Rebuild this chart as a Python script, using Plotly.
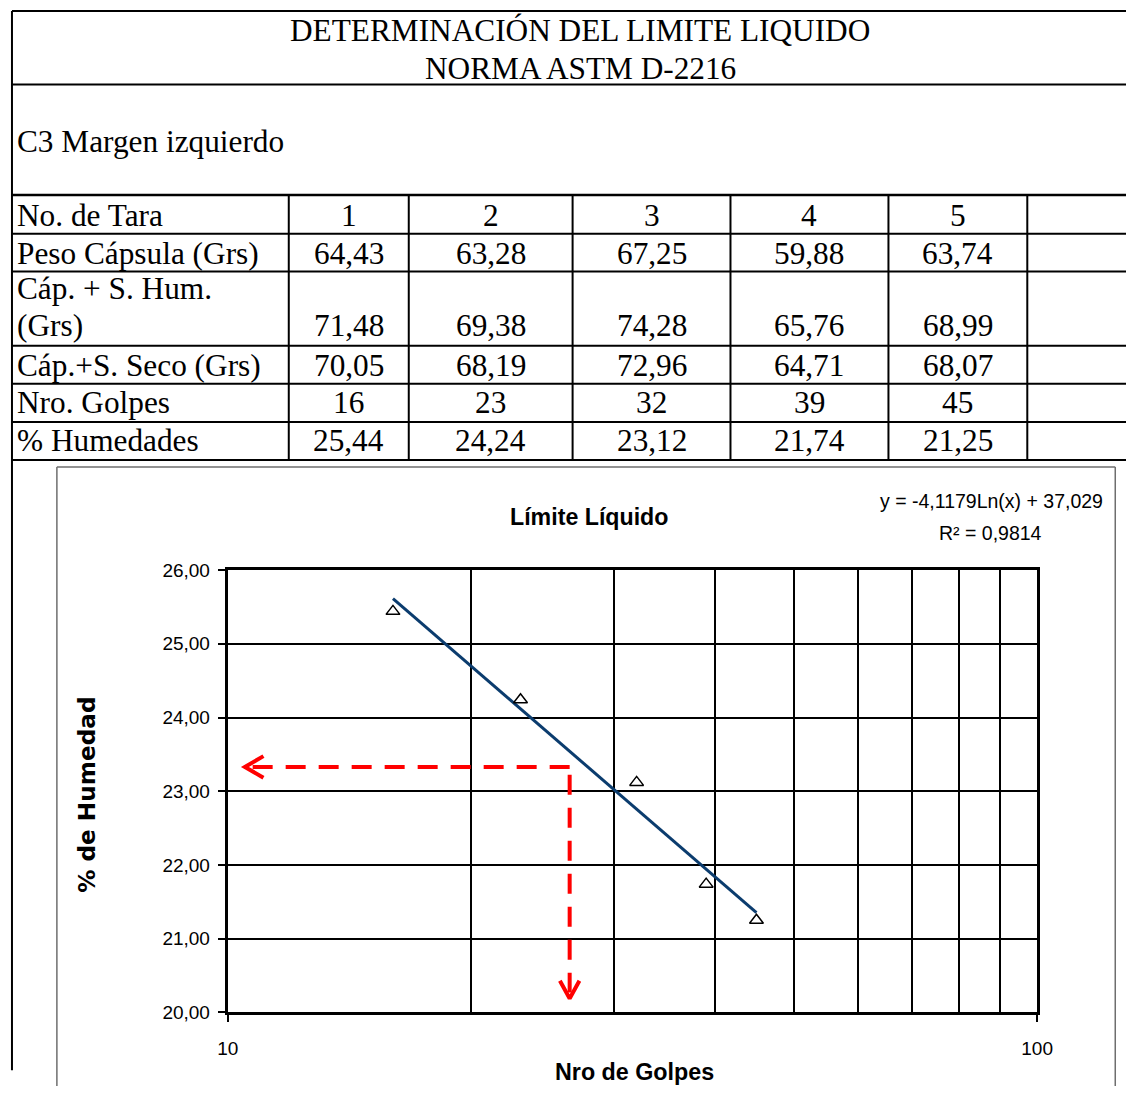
import numpy as np
import plotly.graph_objects as go

# ---------------- data ----------------
tara = ["1", "2", "3", "4", "5"]
peso_capsula = [64.43, 63.28, 67.25, 59.88, 63.74]
cap_suelo_humedo = [71.48, 69.38, 74.28, 65.76, 68.99]
cap_suelo_seco = [70.05, 68.19, 72.96, 64.71, 68.07]
golpes = [16, 23, 32, 39, 45]
humedad = [25.44, 24.24, 23.12, 21.74, 21.25]

# logarithmic trend line reported for the test
trend_slope = -4.1179
trend_intercept = 37.029
trend_r2 = 0.9814

# reading guide (dashed arrows) for the liquid limit
guide_golpes = 26.45
guide_humedad = 23.33
guide_x_end = 10.5
guide_y_end = 20.19

y_ticks = [20, 21, 22, 23, 24, 25, 26]
x_major = [10, 100]
x_minor = [20, 30, 40, 50, 60, 70, 80, 90]

# ---------------- page geometry (pixels) ----------------
W, H = 1142, 1097
PL, PR, PT, PB = 222, 1051, 571, 1022  # plot area


def px(x):
    return x / W


def py(y):
    return 1 - y / H


def coma(v, nd=2):
    return f"{v:.{nd}f}".replace(".", ",")


SERIF = "Liberation Serif, Times New Roman, serif"
SANS = "Liberation Sans, Arial, sans-serif"
WIDE = "DejaVu Sans, Verdana, sans-serif"

fig = go.Figure()

# trend line
xt = np.geomspace(min(golpes), max(golpes), 150)
yt = trend_slope * np.log(xt) + trend_intercept
fig.add_trace(go.Scatter(x=xt, y=yt, mode="lines",
                         line=dict(color="#0b3c6e", width=3),
                         hoverinfo="skip", showlegend=False))

# measured points
fig.add_trace(go.Scatter(x=golpes, y=humedad, mode="markers",
                         marker=dict(symbol="triangle-up-open", size=12,
                                     color="black", line=dict(width=1.5, color="black")),
                         showlegend=False))

# dashed reading guide with open arrowheads
lu = (np.log10(x_major[-1]) - np.log10(x_major[0])) / (PR - PL)  # log units per px
yu = (y_ticks[-1] - y_ticks[0]) / (PB - PT)                      # y units per px
red = "#ff0000"
dash_style = dict(color=red, width=4, dash="20px,13px")
fig.add_trace(go.Scatter(x=[guide_golpes, guide_x_end * 10 ** (6 * lu)],
                         y=[guide_humedad, guide_humedad], mode="lines",
                         line=dash_style, hoverinfo="skip", showlegend=False))
fig.add_trace(go.Scatter(x=[guide_golpes, guide_golpes],
                         y=[guide_humedad - 8 * yu, guide_y_end + 6 * yu], mode="lines",
                         line=dash_style, hoverinfo="skip", showlegend=False))
head = dict(color=red, width=4)
fig.add_trace(go.Scatter(
    x=[guide_x_end * 10 ** (19 * lu), guide_x_end, guide_x_end * 10 ** (19 * lu)],
    y=[guide_humedad + 11 * yu, guide_humedad, guide_humedad - 11 * yu],
    mode="lines", line=head, hoverinfo="skip", showlegend=False))
fig.add_trace(go.Scatter(
    x=[guide_golpes * 10 ** (-10 * lu), guide_golpes, guide_golpes * 10 ** (10 * lu)],
    y=[guide_y_end + 18 * yu, guide_y_end, guide_y_end + 18 * yu],
    mode="lines", line=head, hoverinfo="skip", showlegend=False))

# ---------------- table frame ----------------
shapes = []


def seg(x0, y0, x1, y1, w=2, color="black"):
    shapes.append(dict(type="line", xref="paper", yref="paper",
                       x0=px(x0), x1=px(x1), y0=py(y0), y1=py(y1),
                       line=dict(color=color, width=w)))


LEFT = 1
seg(LEFT, 1, W, 1)
seg(LEFT, 76, W, 76)
seg(LEFT, 188.5, W, 188.5, w=2.5)
row_lines = [228, 266.7, 342.3, 381, 420, 458.7]
for y in row_lines:
    seg(LEFT, y, W, y)
seg(LEFT, 1, LEFT, 1081)
col_lines = [284.5, 407.4, 575.2, 736.9, 898.7, 1040.9]
for x in col_lines:
    seg(x, 188.5, x, 458.7)

# chart frame (its lower edge runs past the page)
frame = "#6e6e6e"
seg(47, 466, 1131, 466, w=1.5, color=frame)
seg(47, 466, 47, H, w=1.5, color=frame)
seg(1131, 466, 1131, H, w=1.5, color=frame)

# ---------------- texts ----------------
ann = []


def text(x, y, s, font, size, anchor="center", color="black", weight="normal", angle=0):
    ann.append(dict(x=px(x), y=py(y), xref="paper", yref="paper", text=s,
                    showarrow=False, xanchor=anchor, yanchor="middle", textangle=angle,
                    font=dict(family=font, size=size, color=color, weight=weight)))


TS = 31.3
LAB_X = 4
text(583, 21, "DETERMINACIÓN DEL LIMITE LIQUIDO", SERIF, TS)
text(583, 60, "NORMA ASTM D-2216", SERIF, TS)
text(LAB_X, 134, "C3 Margen izquierdo", SERIF, TS, anchor="left")

col_centers = [(col_lines[i] + col_lines[i + 1]) / 2 for i in range(5)]
rows = [
    (["No. de Tara"], tara, [210]),
    (["Peso Cápsula (Grs)"], [coma(v) for v in peso_capsula], [248]),
    (["Cáp. + S. Hum.", "(Grs)"], [coma(v) for v in cap_suelo_humedo], [284, 322]),
    (["Cáp.+S. Seco (Grs)"], [coma(v) for v in cap_suelo_seco], [362]),
    (["Nro. Golpes"], [str(v) for v in golpes], [400]),
    (["% Humedades"], [coma(v) for v in humedad], [439]),
]
for labels, vals, ys in rows:
    for lab, yy in zip(labels, ys):
        text(LAB_X, yy, lab, SERIF, TS, anchor="left")
    for cx, v in zip(col_centers, vals):
        text(cx, ys[-1], v, SERIF, TS)

# chart texts
text(592, 517, "Límite Líquido", SANS, 23.2, weight="bold")
text(639, 1083, "Nro de Golpes", SANS, 23.3, weight="bold")
text(78, 800, "% de Humedad", WIDE, 23.2, weight="bold", angle=-90)
text(1004, 501, f"y = {coma(trend_slope, 4)}Ln(x) + {coma(trend_intercept, 3)}", SANS, 19.5)
text(1003, 533, f"R² = {coma(trend_r2, 4)}", SANS, 19.5)

fig.update_layout(
    width=W, height=H,
    margin=dict(l=0, r=0, t=0, b=0),
    paper_bgcolor="white", plot_bgcolor="white",
    separators=",.",
    shapes=shapes, annotations=ann,
    showlegend=False,
    xaxis=dict(
        type="log", range=[np.log10(x_major[0]), np.log10(x_major[-1])],
        domain=[px(PL), px(PR)],
        tickmode="array", tickvals=x_major, ticktext=[str(v) for v in x_major],
        ticks="outside", ticklen=7, tickwidth=2, tickcolor="black",
        ticklabelstandoff=10,
        showgrid=True, gridcolor="black", gridwidth=1.5,
        minor=dict(tickmode="array", tickvals=x_minor, showgrid=True,
                   gridcolor="black", gridwidth=1.5, ticks=""),
        showline=True, linecolor="black", linewidth=3, mirror=True,
        zeroline=False,
        tickfont=dict(family=SANS, size=19, color="black"),
    ),
    yaxis=dict(
        range=[y_ticks[0], y_ticks[-1]],
        domain=[py(PB), py(PT)],
        tickmode="array", tickvals=y_ticks, tickformat=".2f",
        ticks="outside", ticklen=7, tickwidth=2, tickcolor="black",
        ticklabelstandoff=4,
        showgrid=True, gridcolor="black", gridwidth=1.5,
        showline=True, linecolor="black", linewidth=3, mirror=True,
        zeroline=False,
        tickfont=dict(family=SANS, size=19, color="black"),
    ),
)

fig.write_html("out.html", config={"displayModeBar": False})
